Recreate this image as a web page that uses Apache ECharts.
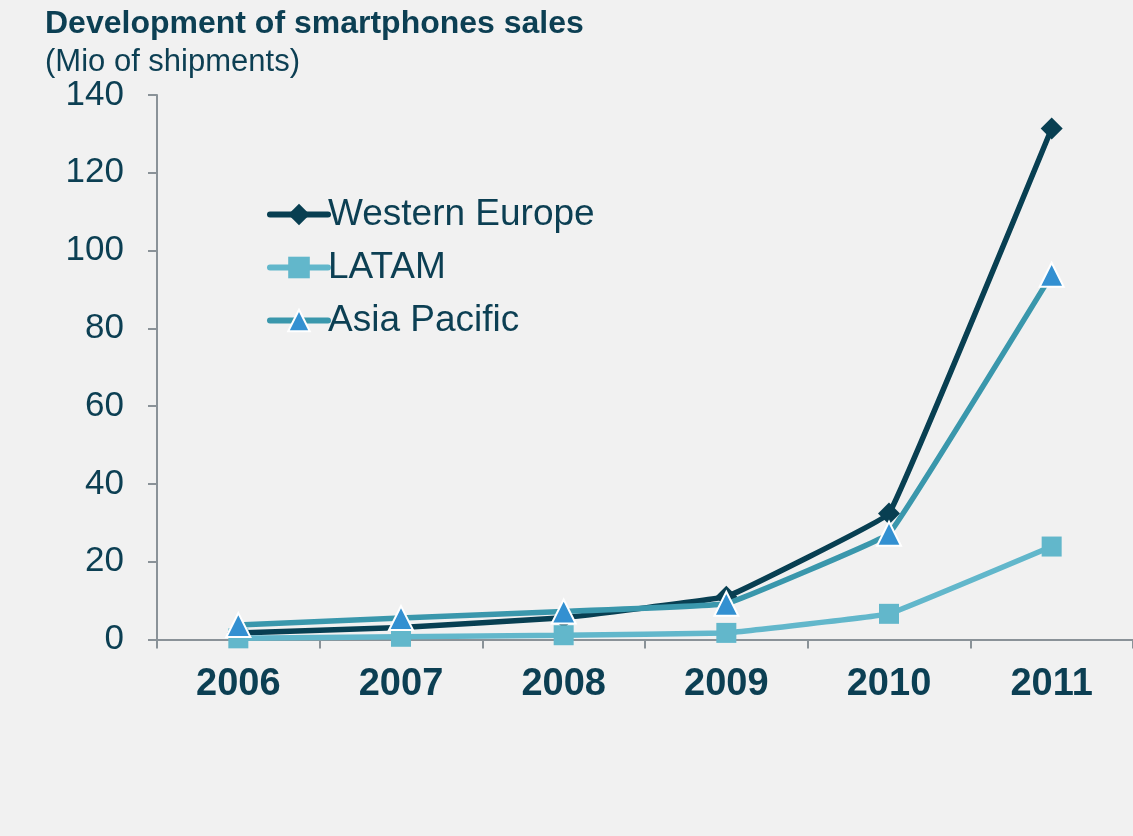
<!DOCTYPE html>
<html>
<head>
<meta charset="utf-8">
<script src="https://cdn.jsdelivr.net/npm/echarts@6/dist/echarts.min.js"></script>
<style>
html,body{margin:0;padding:0;background:#f1f1f1;}
#chart{width:1133px;height:836px;}
</style>
</head>
<body>
<div id="chart"></div>
<script>
const years = ['2006', '2007', '2008', '2009', '2010', '2011'];
const westernEurope = [1.7, 3.1, 5.6, 11, 32.4, 131.4];
const latam = [0.3, 0.7, 1.1, 1.7, 6.6, 23.9];
const asiaPacific = [3.7, 5.5, 7.2, 9.2, 27.2, 93.8];
const yTicks = { min: 0, max: 140, interval: 20 };

const textColor = '#0c3f53';
const axisColor = '#8a9298';
const font = 'Liberation Sans, Arial, sans-serif';

const chart = echarts.init(document.getElementById('chart'));
chart.setOption({
  backgroundColor: '#f1f1f1',
  animation: false,
  textStyle: { fontFamily: font },
  title: {
    text: 'Development of smartphones sales',
    subtext: '(Mio of shipments)',
    left: 40,
    top: 3,
    itemGap: 7,
    textStyle: { fontSize: 32, fontWeight: 'bold', color: textColor, fontFamily: font },
    subtextStyle: { fontSize: 31, color: textColor, fontFamily: font }
  },
  legend: {
    orient: 'vertical',
    left: 262,
    top: 191,
    itemWidth: 58,
    itemHeight: 27,
    itemGap: 16,
    lineStyle: { width: 6, cap: 'round' },
    textStyle: { fontSize: 37, color: textColor, padding: [0, 0, 0, -5] },
    data: ['Western Europe', 'LATAM', 'Asia Pacific']
  },
  grid: { left: 157, top: 95, width: 978, height: 544.5, containLabel: false },
  xAxis: {
    type: 'category',
    data: years,
    boundaryGap: true,
    axisLine: { lineStyle: { color: axisColor, width: 2 } },
    axisTick: { show: true, length: 9, lineStyle: { color: axisColor, width: 2 } },
    axisLabel: { fontSize: 38, fontWeight: 'bold', color: textColor, margin: 26 }
  },
  yAxis: {
    type: 'value',
    min: yTicks.min,
    max: yTicks.max,
    interval: yTicks.interval,
    splitLine: { show: false },
    axisLine: { show: true, lineStyle: { color: axisColor, width: 2 } },
    axisTick: { show: true, length: 9, lineStyle: { color: axisColor, width: 2 } },
    axisLabel: { fontSize: 35, color: textColor, margin: 33 }
  },
  series: [
    {
      name: 'Western Europe',
      type: 'line',
      data: westernEurope,
      smooth: 0.05,
      symbol: 'diamond',
      symbolSize: 22,
      lineStyle: { color: '#083f52', width: 5.5 },
      itemStyle: { color: '#083f52' },
      z: 2
    },
    {
      name: 'LATAM',
      type: 'line',
      data: latam,
      smooth: 0.05,
      symbol: 'rect',
      symbolSize: 20,
      lineStyle: { color: '#62b7cb', width: 5.5 },
      itemStyle: { color: '#62b7cb' },
      z: 3
    },
    {
      name: 'Asia Pacific',
      type: 'line',
      data: asiaPacific,
      smooth: 0.05,
      symbol: 'triangle',
      symbolSize: 24,
      lineStyle: { color: '#3a97ac', width: 5.5 },
      itemStyle: { color: '#3390d1', borderColor: '#ffffff', borderWidth: 2 },
      z: 4
    }
  ]
});
</script>
</body>
</html>
